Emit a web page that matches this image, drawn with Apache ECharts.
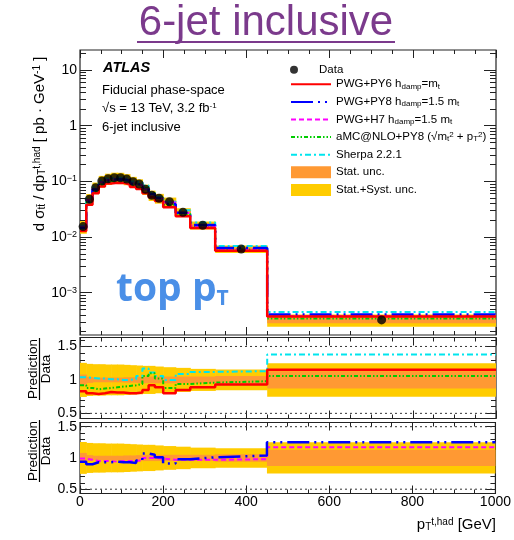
<!DOCTYPE html>
<html>
<head>
<meta charset="utf-8">
<script src="https://cdn.jsdelivr.net/npm/echarts@6/dist/echarts.min.js"></script>
<style>
  html, body { margin: 0; background: #fff; }
  #chart { width: 514px; height: 540px; }
</style>
</head>
<body>
<div id="chart"></div>
<script>
// bin edges of p_T^{t,had} [GeV]
const edges = [0, 15, 30, 45, 60, 75, 90, 105, 120, 135, 150, 165, 180, 200, 230, 265, 325, 450, 1000];
// measured cross-section [pb/GeV]
const dataXS = [0.0154, 0.0477, 0.0771, 0.1016, 0.1117, 0.1164, 0.1160, 0.1100, 0.0988, 0.0898, 0.0721, 0.0563, 0.0497, 0.0430, 0.0279, 0.0163, 0.00611, 0.000325];
// relative uncertainties
const statUnc = [0.08, 0.045, 0.035, 0.035, 0.035, 0.035, 0.035, 0.04, 0.04, 0.045, 0.05, 0.05, 0.05, 0.05, 0.05, 0.05, 0.06, 0.13];
const totUnc = [0.255, 0.24, 0.235, 0.235, 0.23, 0.23, 0.23, 0.225, 0.22, 0.215, 0.21, 0.21, 0.2, 0.19, 0.18, 0.165, 0.155, 0.25];
// prediction / data
const rPY6 = [0.83, 0.80, 0.79, 0.80, 0.82, 0.81, 0.81, 0.80, 0.80, 0.81, 0.85, 0.92, 0.89, 0.80, 0.85, 0.89, 0.93, 1.15];
const rPY8 = [0.94, 0.90, 0.93, 0.93, 0.93, 0.94, 0.93, 0.93, 0.92, 0.96, 1.07, 1.05, 1.01, 0.91, 0.98, 1.01, 1.04, 1.25];
const rH7 = [0.99, 0.97, 0.95, 0.95, 0.95, 0.94, 0.95, 0.95, 0.95, 0.96, 1.00, 1.00, 0.99, 0.97, 0.97, 0.97, 0.98, 1.17];
const rAMC = [0.92, 0.88, 0.86, 0.87, 0.88, 0.89, 0.90, 0.91, 0.92, 0.94, 1.06, 1.10, 1.02, 0.88, 0.94, 0.96, 0.98, 1.06];
const rSherpa = [1.04, 1.03, 1.02, 1.02, 1.01, 1.01, 1.00, 1.00, 1.01, 1.06, 1.17, 1.11, 1.06, 1.00, 1.09, 1.12, 1.13, 1.38];
// axis ticks
const xTicks = [0, 200, 400, 600, 800, 1000];
const yMainTicks = [0.001, 0.01, 0.1, 1, 10];
const yRatioTicks = [0.5, 1, 1.5];

const FONT = 'Liberation Sans, Arial, sans-serif';
const INK = '#222';
const C = { py6: '#ff0000', py8: '#0000ff', h7: '#ff00ff', amc: '#00cc00', sherpa: '#00e5ee', stat: '#ff9933', tot: '#ffcc00' };
const yMin = 1.74e-4, yMax = 22.9;

const yMinor = [];
for (let e = -4; e <= 1; e++) for (let k = 2; k <= 9; k++) {
  const v = k * Math.pow(10, e);
  if (v > yMin && v < yMax) yMinor.push(v);
}
function ratioMinors(lo, hi) {
  const out = [];
  for (let i = 4; i <= 16; i++) if (i % 5 && i / 10 > lo && i / 10 < hi) out.push(i / 10);
  return out;
}

function steps(vals) {
  const pts = [];
  vals.forEach((v, i) => { pts.push([edges[i], v]); pts.push([edges[i + 1], v]); });
  return pts;
}
function bandRows(center, unc) {
  return unc.map((u, i) => [edges[i], edges[i + 1], center[i] * (1 - u), center[i] * (1 + u)]);
}
const ones = dataXS.map(() => 1);
const mainPred = r => dataXS.map((d, i) => d * r[i]);

function bandItem(params, api) {
  const a = api.coord([api.value(0), api.value(3)]);
  const b = api.coord([api.value(1), api.value(2)]);
  const cs = params.coordSys;
  const shape = echarts.graphic.clipRectByRect(
    { x: a[0], y: a[1], width: b[0] - a[0] + 0.6, height: b[1] - a[1] },
    { x: cs.x, y: cs.y, width: cs.width, height: cs.height });
  return shape && { type: 'rect', shape, style: api.style() };
}

function xAxes(g, labels) {
  const base = {
    gridIndex: g, type: 'value', min: 0, max: 1000, interval: 200,
    splitLine: { show: false }, axisLine: { show: false, onZero: false },
    axisTick: { show: true, inside: true, length: 8, lineStyle: { color: INK } },
    minorTick: { show: true, splitNumber: 4, length: 4, lineStyle: { color: INK } }
  };
  return [
    Object.assign({}, base, { position: 'bottom', axisLabel: labels ? { show: true, margin: 2, fontFamily: FONT, fontSize: 14, color: '#000', customValues: xTicks, formatter: v => String(v) } : { show: false } }),
    Object.assign({}, base, { position: 'top', axisLabel: { show: false } })
  ];
}
function yAxes(g, extra, majors, minors, majLen, minLen, label) {
  const mk = (pos, vals, len, lab) => Object.assign({
    gridIndex: g, position: pos, splitLine: { show: false }, axisLine: { show: false, onZero: false },
    axisTick: { show: true, inside: true, length: len, customValues: vals, lineStyle: { color: INK } },
    axisLabel: lab ? Object.assign({ customValues: majors }, label) : { show: false }
  }, extra);
  return [mk('left', majors, majLen, true), mk('left', minors, minLen, false),
          mk('right', majors, majLen, false), mk('right', minors, minLen, false)];
}

const tickLabel = { margin: 3, fontFamily: FONT, fontSize: 14, color: '#000' };
const mainLabel = Object.assign({}, tickLabel, {
  formatter: v => {
    const n = Math.round(Math.log10(v));
    if (n === 1) return '{b|10}';
    if (n === 0) return '{b|1}';
    return '{b|10}{s|\u2212' + (-n) + '}';
  },
  rich: {
    b: { fontFamily: FONT, fontSize: 14, color: '#000' },
    s: { fontFamily: FONT, fontSize: 9, color: '#000', verticalAlign: 'top', lineHeight: 6 }
  }
});

function lineS(name, x, y, pts, color, width, type, extra) {
  return Object.assign({
    name, type: 'line', xAxisIndex: x, yAxisIndex: y, data: pts, symbol: 'none', showSymbol: false,
    lineStyle: { color, width, type }, itemStyle: { color }, z: 3, animation: false
  }, extra || {});
}
function bandS(name, x, y, rows, color, z) {
  return {
    name, type: 'custom', xAxisIndex: x, yAxisIndex: y, renderItem: bandItem,
    encode: { x: [0, 1], y: [2, 3] }, data: rows, itemStyle: { color }, z, silent: true
  };
}
// dotted reference lines at the ratio tick values
function refLines(x, y) {
  return yRatioTicks.map(v => lineS('ref' + y + '_' + v, x, y, [[0, v], [1000, v]], '#333', 1, [2, 3], { z: 0.5, silent: true, clip: false }));
}

const DASH = { py8: [22, 5, 2, 5, 2, 5], h7: [5, 3], amc: [4, 2, 1.5, 2, 1.5, 2], sherpa: [6, 3, 2, 3] };

const series = [
  // main panel
  bandS('TOT', 0, 0, bandRows(dataXS, totUnc), C.tot, 1),
  bandS('STAT', 0, 0, bandRows(dataXS, statUnc), C.stat, 2),
  lineS('SHERPA', 0, 0, steps(mainPred(rSherpa)), C.sherpa, 2, DASH.sherpa),
  lineS('AMC', 0, 0, steps(mainPred(rAMC)), C.amc, 2, DASH.amc),
  lineS('H7', 0, 0, steps(mainPred(rH7)), C.h7, 2, DASH.h7),
  lineS('PY8', 0, 0, steps(mainPred(rPY8)), C.py8, 2.5, DASH.py8),
  lineS('PY6', 0, 0, steps(mainPred(rPY6)), C.py6, 2.5, 'solid'),
  {
    name: 'Data', type: 'scatter', xAxisIndex: 0, yAxisIndex: 0, symbolSize: 9, z: 5,
    itemStyle: { color: '#000' },
    data: dataXS.map((v, i) => [(edges[i] + edges[i + 1]) / 2, v])
  },
  // ratio panel 1
  ...refLines(2, 4),
  bandS('TOT', 2, 4, bandRows(ones, totUnc), C.tot, 1),
  bandS('STAT', 2, 4, bandRows(ones, statUnc), C.stat, 2),
  lineS('SHERPA', 2, 4, steps(rSherpa), C.sherpa, 2, DASH.sherpa),
  lineS('AMC', 2, 4, steps(rAMC), C.amc, 2, DASH.amc),
  lineS('PY6', 2, 4, steps(rPY6), C.py6, 2.5, 'solid'),
  // ratio panel 2
  ...refLines(4, 8),
  bandS('TOT', 4, 8, bandRows(ones, totUnc), C.tot, 1),
  bandS('STAT', 4, 8, bandRows(ones, statUnc), C.stat, 2),
  lineS('H7', 4, 8, steps(rH7), C.h7, 2, DASH.h7),
  lineS('PY8', 4, 8, steps(rPY8), C.py8, 2.5, DASH.py8)
];

const legendText = {
  Data: 'Data',
  PY6: 'PWG+PY6 h{sub|damp}=m{sub|t}',
  PY8: 'PWG+PY8 h{sub|damp}=1.5 m{sub|t}',
  H7: 'PWG+H7 h{sub|damp}=1.5 m{sub|t}',
  AMC: 'aMC@NLO+PY8 (\u221Am{sub|t}{sup|2} + p{sub|T}{sup|2})',
  SHERPA: 'Sherpa 2.2.1',
  STAT: 'Stat. unc.',
  TOT: 'Stat.+Syst. unc.'
};
const legendStyle = {
  fontFamily: FONT, fontSize: 11.5, color: '#000', lineHeight: 12,
  rich: {
    sub: { fontFamily: FONT, fontSize: 8, color: '#000', verticalAlign: 'bottom', lineHeight: 4 },
    sup: { fontFamily: FONT, fontSize: 8, color: '#000', verticalAlign: 'top', lineHeight: 4 }
  }
};
const legendBase = {
  orient: 'vertical', left: 290, padding: 0, itemWidth: 40, itemTextGap: 9,
  selectedMode: false, textStyle: legendStyle, formatter: n => legendText[n]
};
const noSym = { opacity: 0 };

const grids = [
  { left: 80, top: 50, width: 416, height: 285 },
  { left: 80, top: 337.5, width: 416, height: 81 },
  { left: 80, top: 422.5, width: 416, height: 71 }
].map(g => Object.assign(g, { show: true, borderColor: INK, borderWidth: 1.2, backgroundColor: 'transparent' }));

const sub = { fontFamily: FONT, fontSize: 10, fill: '#000', verticalAlign: 'bottom', lineHeight: 4 };
const sup = { fontFamily: FONT, fontSize: 10, fill: '#000', verticalAlign: 'top', lineHeight: 4 };
const supS = { fontFamily: FONT, fontSize: 8, fill: '#000', verticalAlign: 'top', lineHeight: 4 };
const ratioTitle = cy => [
  { type: 'text', x: 33, y: cy, rotation: Math.PI / 2, style: { text: 'Prediction', fontFamily: FONT, fontSize: 13.5, fill: '#000', align: 'center', verticalAlign: 'middle' } },
  { type: 'text', x: 46, y: cy, rotation: Math.PI / 2, style: { text: 'Data', fontFamily: FONT, fontSize: 13.5, fill: '#000', align: 'center', verticalAlign: 'middle' } },
  { type: 'line', shape: { x1: 39.5, y1: cy - 31, x2: 39.5, y2: cy + 31 }, style: { stroke: '#000', lineWidth: 1.2 } }
];

const option = {
  animation: false,
  backgroundColor: '#fff',
  grid: grids,
  xAxis: [].concat(xAxes(0, false), xAxes(1, false), xAxes(2, true)),
  yAxis: [].concat(
    yAxes(0, { type: 'log', logBase: 10, min: yMin, max: yMax }, yMainTicks, yMinor, 12, 6, mainLabel),
    yAxes(1, { type: 'value', min: 0.423, max: 1.634 }, yRatioTicks, ratioMinors(0.423, 1.634), 10, 5, tickLabel),
    yAxes(2, { type: 'value', min: 0.431, max: 1.567 }, yRatioTicks, ratioMinors(0.431, 1.567), 10, 5, tickLabel)
  ),
  legend: [
    Object.assign({}, legendBase, { top: 63.7, itemHeight: 8, data: [{ name: 'Data', icon: 'circle' }] }),
    Object.assign({}, legendBase, {
      top: 78.3, itemHeight: 12, itemGap: 5.6,
      data: [{ name: 'PY6', itemStyle: noSym }, { name: 'PY8', itemStyle: noSym }, { name: 'H7', itemStyle: noSym },
             { name: 'AMC', itemStyle: noSym }, { name: 'SHERPA', itemStyle: noSym },
             { name: 'STAT', icon: 'rect' }, { name: 'TOT', icon: 'rect' }]
    })
  ],
  graphic: [
    { type: 'text', x: 266, y: 23, style: { text: '6-jet inclusive', fontFamily: FONT, fontSize: 42, fill: '#7b3a8c', align: 'center', verticalAlign: 'middle' } },
    { type: 'line', shape: { x1: 137, y1: 42, x2: 395, y2: 42 }, style: { stroke: '#7b3a8c', lineWidth: 2 } },
    { type: 'text', x: 103, y: 68, style: { text: 'ATLAS', fontFamily: FONT, fontSize: 14.5, fontWeight: 'bold', fontStyle: 'italic', fill: '#000', verticalAlign: 'middle' } },
    { type: 'text', x: 102, y: 90, style: { text: 'Fiducial phase-space', fontFamily: FONT, fontSize: 13, fill: '#000', verticalAlign: 'middle' } },
    { type: 'text', x: 102, y: 108, style: { text: '\u221As = 13 TeV, 3.2 fb{s|-1}', fontFamily: FONT, fontSize: 13, fill: '#000', verticalAlign: 'middle', rich: { s: supS } } },
    { type: 'text', x: 102, y: 127, style: { text: '6-jet inclusive', fontFamily: FONT, fontSize: 13, fill: '#000', verticalAlign: 'middle' } },
    { type: 'text', x: 116, y: 290, style: {
        text: 'top p{t|T}', fontFamily: 'Open Sans, sans-serif', fontSize: 39, fontWeight: 'bold', fill: '#4a8fe7', verticalAlign: 'middle',
        rich: { t: { fontFamily: 'Open Sans, sans-serif', fontSize: 21, fontWeight: 'bold', fill: '#4a8fe7', verticalAlign: 'bottom', lineHeight: 14 } } } },
    { type: 'text', x: 40, y: 144, rotation: Math.PI / 2, style: {
        text: 'd \u03C3{sub|tt\u0304} / dp{sub|T}{sup|t,had} [ pb \u00B7 GeV{sup|-1} ]', fontFamily: FONT, fontSize: 15, fill: '#000',
        align: 'center', verticalAlign: 'middle', rich: { sub, sup } } },
    { type: 'text', x: 496, y: 525, style: {
        text: 'p{sub|T}{sup|t,had} [GeV]', fontFamily: FONT, fontSize: 15, fill: '#000', align: 'right', verticalAlign: 'middle', rich: { sub, sup } } }
  ].concat(ratioTitle(369), ratioTitle(451)),
  series
};

const chart = echarts.init(document.getElementById('chart'));
chart.setOption(option);
</script>
</body>
</html>
